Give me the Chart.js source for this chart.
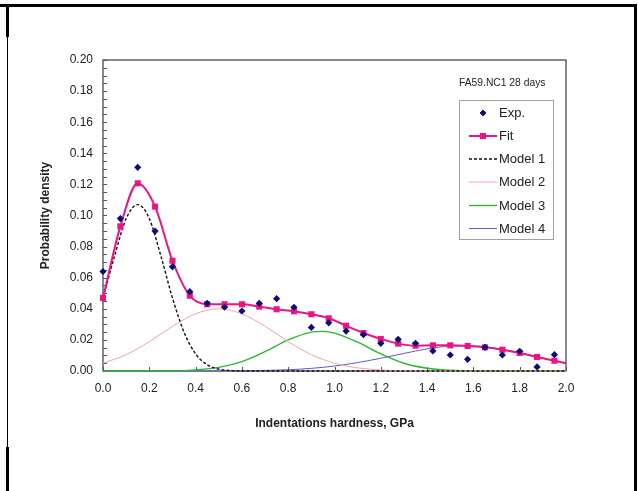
<!DOCTYPE html>
<html>
<head>
<meta charset="utf-8">
<script src="https://cdn.jsdelivr.net/npm/chart.js@4.4.1/dist/chart.umd.min.js"></script>
<style>
    html, body { margin: 0; padding: 0; background: #fff; }
    #wrap { position: relative; width: 638px; height: 491px; overflow: hidden; background: #fff; }
    #hardness-chart { position: absolute; left: 0; top: 0; }
    .rule { position: absolute; background: #000; }
</style>
</head>
<body>
<div id="wrap">
    <canvas id="hardness-chart" width="638" height="491"></canvas>
    <div class="rule" style="left:0; top:4px; width:637px; height:3px;"></div>
    <div class="rule" style="left:6px; top:4px; width:3px; height:33px;"></div>
    <div class="rule" style="left:7px; top:37px; width:1px; height:410px;"></div>
    <div class="rule" style="left:6px; top:447px; width:3px; height:44px;"></div>
    <div class="rule" style="left:634px; top:4px; width:3px; height:487px;"></div>
</div>
<script>
// Measured histogram (bin centres, GPa) and fitted density
const hardness = [0.0, 0.075, 0.15, 0.225, 0.3, 0.375, 0.45, 0.525, 0.6, 0.675, 0.75,
    0.825, 0.9, 0.975, 1.05, 1.125, 1.2, 1.275, 1.35, 1.425, 1.5, 1.575, 1.65, 1.725, 1.8, 1.875, 1.95];
const expDensity = [0.064, 0.098, 0.131, 0.090, 0.067, 0.051, 0.0435, 0.041, 0.0386, 0.0435, 0.0465,
    0.041, 0.028, 0.031, 0.0257, 0.0234, 0.0178, 0.0204, 0.0178, 0.0129, 0.0103, 0.0075, 0.0152, 0.0103, 0.0127, 0.0026, 0.0105];
const fitDensity = [0.047, 0.093, 0.1207, 0.1057, 0.0709, 0.0484, 0.0429, 0.0429, 0.0429, 0.0414, 0.0397,
    0.0384, 0.0365, 0.0339, 0.0291, 0.0244, 0.0206, 0.0176, 0.0163, 0.0165, 0.0165, 0.0161, 0.0152, 0.0137, 0.0116, 0.009, 0.0066];
// fitted curve runs on to the end of the axis
const fitEndX = 2.0;
const fitEndY = 0.005;

// Component curves
const model1X = [0, 0.05, 0.1, 0.15, 0.2, 0.25, 0.3, 0.35, 0.4, 0.45, 0.5, 0.55, 0.6, 2.0];
const model1Y = [0.047, 0.074, 0.098, 0.107, 0.098, 0.074, 0.047, 0.025, 0.011, 0.004, 0.0012, 0.0003, 0, 0];
const model2X = [0, 0.1, 0.2, 0.3, 0.4, 0.5, 0.6, 0.7, 0.8, 0.9, 1.0, 1.1, 1.2, 1.3, 1.4, 2.0];
const model2Y = [0.005, 0.0105, 0.0189, 0.0287, 0.0368, 0.040, 0.0368, 0.0287, 0.0189, 0.0105, 0.005, 0.002, 0.0007, 0.0002, 0, 0];
const model3X = [0, 0.3, 0.4, 0.5, 0.6, 0.7, 0.8, 0.9, 0.95, 1.0, 1.1, 1.2, 1.3, 1.4, 1.5, 1.6, 2.0];
const model3Y = [0, 0, 0.0007, 0.0023, 0.006, 0.0124, 0.020, 0.025, 0.0255, 0.0244, 0.0185, 0.011, 0.005, 0.0018, 0.0005, 0, 0];
const model4X = [0, 0.5, 0.6, 0.7, 0.8, 0.9, 1.0, 1.1, 1.2, 1.3, 1.4, 1.5, 1.6, 1.7, 1.8, 1.9, 2.0];
const model4Y = [0, 0, 0.0001, 0.0004, 0.0008, 0.0017, 0.0032, 0.0054, 0.0082, 0.0113, 0.0142, 0.016, 0.0162, 0.0145, 0.0117, 0.0082, 0.005];

const xTicks = [0, 0.2, 0.4, 0.6, 0.8, 1.0, 1.2, 1.4, 1.6, 1.8, 2.0];
const sampleLabel = 'FA59.NC1 28 days';

const FONT = "'Liberation Sans', Arial, sans-serif";
const toPoints = (xs, ys) => xs.map((x, i) => ({ x, y: ys[i] }));

const modelLine = (label, xs, ys, color, width, dash) => ({
    label,
    data: toPoints(xs, ys),
    showLine: true,
    borderColor: color,
    borderWidth: width,
    borderDash: dash || [],
    pointRadius: 0,
    cubicInterpolationMode: 'monotone',
    clip: false
});

// Frame, inward tick marks, sample label and legend box
const decorPlugin = {
    id: 'decor',
    beforeDatasetsDraw(chart) {
        const { ctx, chartArea: a, scales } = chart;
        ctx.save();
        ctx.strokeStyle = '#3c3c3c';
        ctx.lineWidth = 1.2;
        ctx.strokeRect(a.left, a.top, a.right - a.left, a.bottom - a.top);
        ctx.lineWidth = 1;
        ctx.strokeStyle = '#555';
        ctx.beginPath();
        for (let v = 0; v <= 0.2001; v += 0.005) {
            const py = Math.round(scales.y.getPixelForValue(v)) + 0.5;
            ctx.moveTo(a.left, py);
            ctx.lineTo(a.left + 4, py);
        }
        xTicks.forEach(v => {
            const px = Math.round(scales.x.getPixelForValue(v)) + 0.5;
            ctx.moveTo(px, a.bottom);
            ctx.lineTo(px, a.bottom - 4);
        });
        ctx.stroke();
        ctx.restore();
    },
    afterDraw(chart) {
        const { ctx } = chart;
        ctx.save();
        ctx.fillStyle = '#222';
        ctx.font = `10.3px ${FONT}`;
        ctx.textAlign = 'left';
        ctx.textBaseline = 'middle';
        ctx.fillText(sampleLabel, 459, 83);

        // legend box
        ctx.strokeStyle = '#a0a0a0';
        ctx.lineWidth = 1;
        ctx.strokeRect(459.5, 100.5, 94, 139);
        ctx.font = `13px ${FONT}`;
        const rowY = [113, 136, 159, 182, 205.5, 228.5];
        chart.data.datasets.forEach((ds, i) => {
            const y = rowY[i];
            if (ds.showLine) {
                ctx.strokeStyle = ds.borderColor;
                ctx.lineWidth = ds.borderWidth;
                ctx.setLineDash(ds.borderDash || []);
                ctx.beginPath();
                ctx.moveTo(469, y);
                ctx.lineTo(497, y);
                ctx.stroke();
                ctx.setLineDash([]);
            }
            if (ds.legendMarker) {
                ctx.fillStyle = ds.backgroundColor;
                Chart.helpers.drawPoint(ctx, { pointStyle: ds.pointStyle, radius: ds.legendMarker, rotation: 0, borderWidth: 0 }, 483, y);
                ctx.fill();
            }
            ctx.fillStyle = '#222';
            ctx.fillText(ds.label, 499, y + 0.5);
        });
        ctx.restore();
    }
};

const canvas = document.getElementById('hardness-chart');
const hardnessChart = new Chart(canvas.getContext('2d'), {
    type: 'scatter',
    data: {
        datasets: [
            {
                label: 'Exp.',
                data: toPoints(hardness, expDensity),
                pointStyle: 'rectRot',
                pointRadius: 3.6,
                backgroundColor: '#0c0c7a',
                borderColor: '#0c0c7a',
                borderWidth: 0,
                legendMarker: 3.2,
                clip: false
            },
            {
                label: 'Fit',
                data: toPoints(hardness.concat([fitEndX]), fitDensity.concat([fitEndY])),
                showLine: true,
                pointStyle: 'rect',
                pointRadius: ctx => ctx.dataIndex < hardness.length ? 4.3 : 0,
                backgroundColor: '#ea1583',
                borderColor: '#ea1583',
                pointBorderWidth: 0,
                borderWidth: 2,
                cubicInterpolationMode: 'monotone',
                legendMarker: 4.3,
                clip: false
            },
            modelLine('Model 1', model1X, model1Y, '#111', 1.4, [3, 2]),
            modelLine('Model 2', model2X, model2Y, '#f3a3ad', 1, null),
            modelLine('Model 3', model3X, model3Y, '#2fb52f', 1.4, null),
            modelLine('Model 4', model4X, model4Y, '#5c5cc4', 1, null)
        ]
    },
    options: {
        responsive: false,
        animation: false,
        layout: { padding: { left: 38, top: 60, right: 72, bottom: 60 } },
        plugins: {
            legend: { display: false },
            tooltip: { enabled: false }
        },
        scales: {
            x: {
                type: 'linear',
                min: 0,
                max: 2,
                afterBuildTicks: scale => { scale.ticks = xTicks.map(v => ({ value: v })); },
                afterFit: scale => { scale.height = 60; },
                ticks: {
                    callback: v => v.toFixed(1),
                    color: '#222',
                    padding: 10,
                    maxRotation: 0,
                    font: { family: FONT, size: 12 }
                },
                grid: { display: false, drawTicks: false },
                border: { display: false },
                title: {
                    display: true,
                    text: 'Indentations hardness, GPa',
                    color: '#222',
                    padding: 0,
                    font: { family: FONT, size: 12, weight: 'bold' }
                }
            },
            y: {
                type: 'linear',
                min: 0,
                max: 0.2,
                afterFit: scale => { scale.width = 65; },
                ticks: {
                    stepSize: 0.02,
                    callback: v => v.toFixed(2),
                    color: '#222',
                    padding: 10,
                    font: { family: FONT, size: 12 }
                },
                grid: { display: false, drawTicks: false },
                border: { display: false },
                title: {
                    display: true,
                    text: 'Probability density',
                    color: '#222',
                    padding: 0,
                    font: { family: FONT, size: 12, weight: 'bold' }
                }
            }
        }
    },
    plugins: [decorPlugin]
});
</script>
</body>
</html>
